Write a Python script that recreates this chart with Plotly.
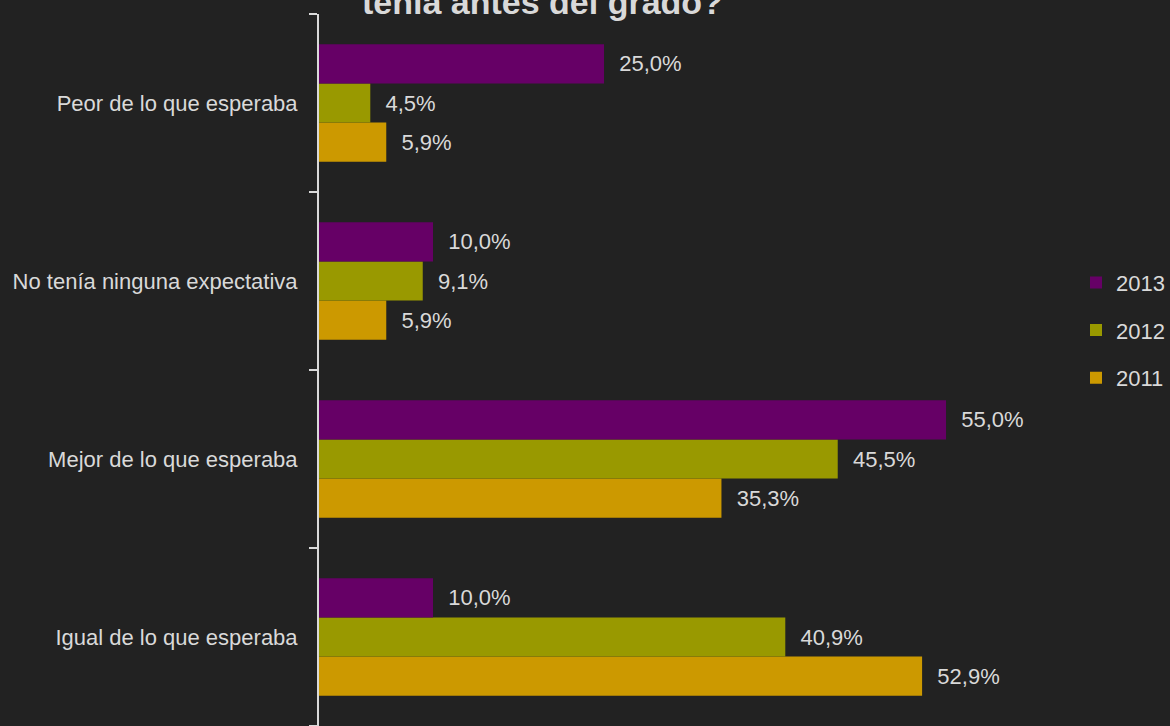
import plotly.graph_objects as go

categories = ["Igual de lo que esperaba", "Mejor de lo que esperaba",
              "No tenía ninguna expectativa", "Peor de lo que esperaba"]
years = ["2011", "2012", "2013"]
values_2011 = [52.9, 35.3, 5.9, 5.9]
values_2012 = [40.9, 45.5, 9.1, 4.5]
values_2013 = [10.0, 55.0, 10.0, 25.0]
colors = {"2011": "#CC9900", "2012": "#999900", "2013": "#660066"}
series = {"2011": values_2011, "2012": values_2012, "2013": values_2013}
legend_rank = {"2013": 1, "2012": 2, "2011": 3}

title_visible = "tenía antes del grado?"

FONT = "Liberation Sans, Arial, sans-serif"
TXT = "#D9D9D9"
BG = "#222222"

fig = go.Figure()
for y in years:
    fig.add_trace(go.Bar(
        y=categories, x=series[y], name=y, orientation="h",
        marker=dict(color=colors[y], line=dict(width=0)),
        texttemplate="  %{x:.1f}%", textposition="outside",
        textfont=dict(color=TXT, size=22, family=FONT),
        constraintext="none", cliponaxis=False,
        legendgroup=y, legendrank=legend_rank[y],
    ))

fig.update_layout(
    width=1170, height=726,
    paper_bgcolor=BG, plot_bgcolor=BG,
    separators=",.",
    barmode="group", bargap=0.34, bargroupgap=0,
    margin=dict(l=319, r=90, t=14, b=0),
    font=dict(family=FONT, color=TXT, size=22),
    showlegend=True,
    legend=dict(traceorder="grouped", x=0.995, xanchor="left", y=0.556, yanchor="middle",
                tracegroupgap=16, font=dict(size=22, color=TXT), bgcolor="rgba(0,0,0,0)"),
    xaxis=dict(range=[0, 66.75], visible=False, showgrid=False, zeroline=False),
    yaxis=dict(categoryorder="array", categoryarray=categories, tickson="boundaries",
               ticks="outside", ticklen=8, tickwidth=2, tickcolor=TXT,
               showline=True, linecolor=TXT, linewidth=2, showgrid=False,
               ticklabelstandoff=15, tickfont=dict(size=22, color=TXT, family=FONT)),
    annotations=[dict(text="<b>" + title_visible + "</b>", xref="paper", yref="paper",
                      x=(542 - 319) / 761, y=1, yshift=-9, xanchor="center", yanchor="bottom",
                      showarrow=False, font=dict(size=34, color="#D9D9D9", family=FONT))],
)

fig.write_html("out.html", config={"displayModeBar": False},
               post_script="document.body.style.margin='0';document.body.style.background='#222222';")
